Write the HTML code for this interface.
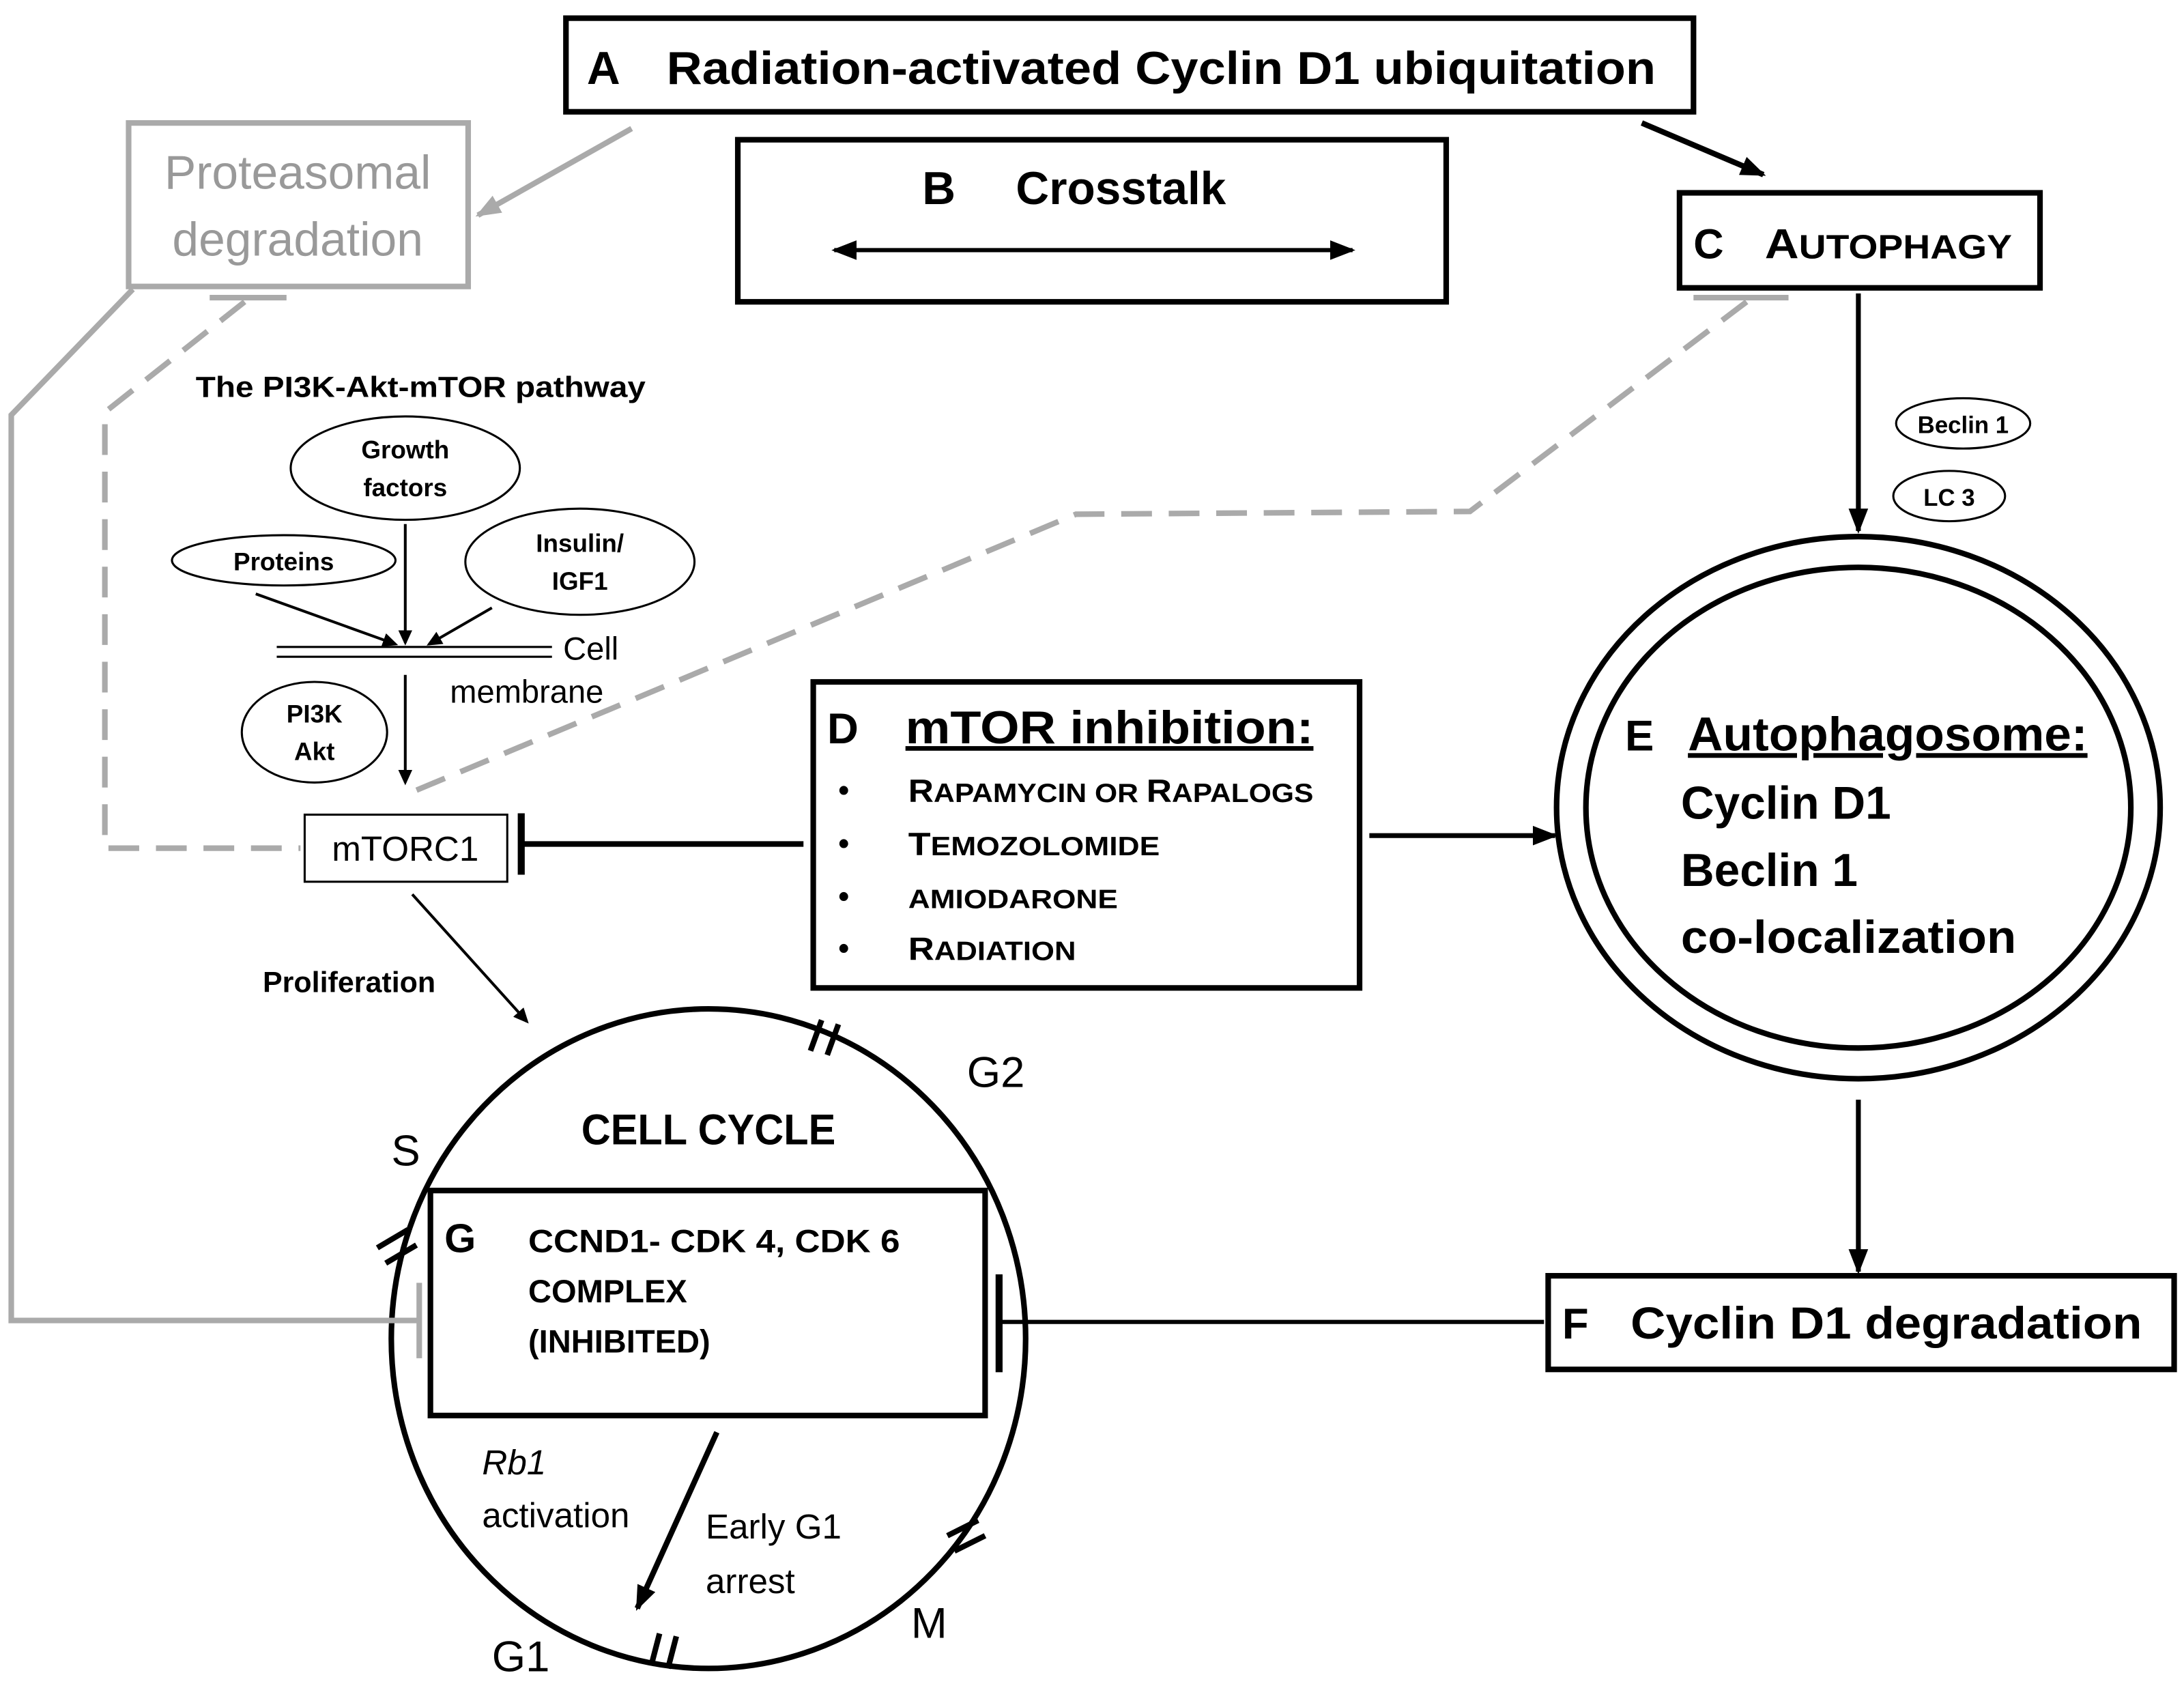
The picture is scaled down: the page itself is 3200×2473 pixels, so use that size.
<!DOCTYPE html>
<html><head><meta charset="utf-8"><style>
html,body{margin:0;padding:0;background:#fff}
svg{display:block}
text{font-family:"Liberation Sans",sans-serif}
</style></head><body>
<svg width="3200" height="2473" viewBox="0 0 1563 1208" xmlns="http://www.w3.org/2000/svg">
<defs>
<marker id="ah" markerWidth="10" markerHeight="10" refX="8" refY="5" orient="auto" markerUnits="strokeWidth"><path d="M0,1 L9,5 L0,9 z" fill="#000"/></marker>
<marker id="ahs" markerWidth="12" markerHeight="12" refX="9" refY="6" orient="auto" markerUnits="userSpaceOnUse"><path d="M0,1 L11,6 L0,11 z" fill="#000"/></marker>
<marker id="ahb" markerWidth="20" markerHeight="20" refX="16" refY="10" orient="auto" markerUnits="userSpaceOnUse"><path d="M0,3 L18,10 L0,17 z" fill="#000"/></marker>
<marker id="ahbs" markerWidth="20" markerHeight="20" refX="16" refY="10" orient="auto-start-reverse" markerUnits="userSpaceOnUse"><path d="M0,3 L18,10 L0,17 z" fill="#000"/></marker>
<marker id="ahg" markerWidth="20" markerHeight="20" refX="16" refY="10" orient="auto" markerUnits="userSpaceOnUse"><path d="M0,3 L18,10 L0,17 z" fill="#aaa"/></marker>
</defs>
<g fill="none" stroke="#000" stroke-width="4">
<rect x="405" y="13" width="807" height="67"/>
<rect x="528" y="100" width="507" height="116"/>
<rect x="1202" y="138" width="258" height="68"/>
<rect x="582" y="488" width="391" height="219"/>
<rect x="1108" y="913" width="448" height="67"/>
<rect x="308" y="852" width="397" height="161"/>
<ellipse cx="1330" cy="578" rx="216" ry="194"/>
<ellipse cx="1330" cy="578" rx="195" ry="172"/>
<ellipse cx="507" cy="958" rx="227" ry="236"/>
</g>
<rect x="92" y="88" width="243" height="117" fill="none" stroke="#aaa" stroke-width="4"/>
<g stroke="#aaa" stroke-width="4" fill="none">
<line x1="452" y1="92" x2="342" y2="154" marker-end="url(#ahg)"/>
<line x1="150" y1="213" x2="205" y2="213"/>
<line x1="1212" y1="213" x2="1280" y2="213"/>
<polyline points="95,207 8,297 8,945 300,945"/>
<line x1="300" y1="918" x2="300" y2="972"/>
<polyline points="175,216 75,295 75,607 215,607" stroke-dasharray="22,12"/>
<polyline points="1250,216 1052,366 770,368 292,568" stroke-dasharray="22,12"/>
</g>
<g stroke="#000" fill="none">
<line x1="1175" y1="88" x2="1262" y2="125" stroke-width="4" marker-end="url(#ahb)"/>
<line x1="597" y1="179" x2="968" y2="179" stroke-width="3" marker-start="url(#ahbs)" marker-end="url(#ahb)"/>
<line x1="1330" y1="210" x2="1330" y2="380" stroke-width="3.5" marker-end="url(#ahb)"/>
<line x1="980" y1="598" x2="1113" y2="598" stroke-width="3.5" marker-end="url(#ahb)"/>
<line x1="1330" y1="787" x2="1330" y2="910" stroke-width="3.5" marker-end="url(#ahb)"/>
<line x1="375" y1="604" x2="575" y2="604" stroke-width="4"/>
<line x1="373" y1="582" x2="373" y2="626" stroke-width="5"/>
<line x1="717" y1="946" x2="1105" y2="946" stroke-width="3"/>
<line x1="715" y1="912" x2="715" y2="982" stroke-width="5"/>
<line x1="513" y1="1025" x2="456" y2="1151" stroke-width="4" marker-end="url(#ahb)"/>
<line x1="295" y1="640" x2="377" y2="731" stroke-width="2" marker-end="url(#ahs)"/>
<line x1="290" y1="375" x2="290" y2="460" stroke-width="2" marker-end="url(#ahs)"/>
<line x1="183" y1="425" x2="283" y2="461" stroke-width="2" marker-end="url(#ahs)"/>
<line x1="352" y1="435" x2="307" y2="461" stroke-width="2" marker-end="url(#ahs)"/>
<line x1="290" y1="483" x2="290" y2="560" stroke-width="2" marker-end="url(#ahs)"/>
<line x1="198" y1="463" x2="395" y2="463" stroke-width="1.5"/>
<line x1="198" y1="470" x2="395" y2="470" stroke-width="1.5"/>
<ellipse cx="290" cy="335" rx="82" ry="37" stroke-width="1.5"/>
<ellipse cx="203" cy="401" rx="80" ry="18" stroke-width="1.5"/>
<ellipse cx="415" cy="402" rx="82" ry="38" stroke-width="1.5"/>
<ellipse cx="225" cy="524" rx="52" ry="36" stroke-width="1.5"/>
<ellipse cx="1405" cy="303" rx="48" ry="18" stroke-width="1.5"/>
<ellipse cx="1395" cy="355" rx="40" ry="18" stroke-width="1.5"/>
<rect x="218" y="583" width="145" height="48" stroke-width="1.5"/>
<g stroke-width="4">
<line x1="580" y1="752" x2="588" y2="730"/><line x1="592" y1="755" x2="600" y2="733"/>
<line x1="270" y1="893" x2="292" y2="880"/><line x1="276" y1="904" x2="298" y2="891"/>
<line x1="466" y1="1192" x2="472" y2="1169"/><line x1="478" y1="1194" x2="484" y2="1171"/>
<line x1="678" y1="1099" x2="700" y2="1088"/><line x1="683" y1="1110" x2="705" y2="1099"/>
</g>
</g>
<g font-weight="bold" fill="#000">
<text x="420" y="60" font-size="33">A</text>
<text x="477" y="60" font-size="33" textLength="708" lengthAdjust="spacingAndGlyphs">Radiation-activated Cyclin D1 ubiquitation</text>
<text x="660" y="146" font-size="33">B</text>
<text x="727" y="146" font-size="33">Crosstalk</text>
<text x="1212" y="185" font-size="30">C</text>
<text x="1263" y="185" font-size="30" textLength="177" lengthAdjust="spacingAndGlyphs">A<tspan font-size="24">UTOPHAGY</tspan></text>
<text x="140" y="284" font-size="21" textLength="322" lengthAdjust="spacingAndGlyphs">The PI3K-Akt-mTOR pathway</text>
<text x="290" y="328" font-size="18" text-anchor="middle">Growth</text>
<text x="290" y="355" font-size="18" text-anchor="middle">factors</text>
<text x="203" y="408" font-size="18" text-anchor="middle">Proteins</text>
<text x="415" y="395" font-size="18" text-anchor="middle">Insulin/</text>
<text x="415" y="422" font-size="18" text-anchor="middle">IGF1</text>
<text x="225" y="517" font-size="18" text-anchor="middle">PI3K</text>
<text x="225" y="544" font-size="18" text-anchor="middle">Akt</text>
<text x="1405" y="310" font-size="17" text-anchor="middle">Beclin 1</text>
<text x="1395" y="362" font-size="17" text-anchor="middle">LC 3</text>
<text x="188" y="710" font-size="21">Proliferation</text>
<text x="592" y="532" font-size="31">D</text>
<text x="648" y="532" font-size="33" text-decoration="underline" textLength="292" lengthAdjust="spacingAndGlyphs">mTOR  inhibition:</text>
<g font-size="23">
<text x="600" y="573" font-size="22">•</text><text x="650" y="574" textLength="290" lengthAdjust="spacingAndGlyphs">R<tspan font-size="19">APAMYCIN OR </tspan>R<tspan font-size="19">APALOGS</tspan></text>
<text x="600" y="611" font-size="22">•</text><text x="650" y="612" textLength="180" lengthAdjust="spacingAndGlyphs">T<tspan font-size="19">EMOZOLOMIDE</tspan></text>
<text x="600" y="649" font-size="22">•</text><text x="650" y="650" font-size="19" textLength="150" lengthAdjust="spacingAndGlyphs">AMIODARONE</text>
<text x="600" y="686" font-size="22">•</text><text x="650" y="687" textLength="120" lengthAdjust="spacingAndGlyphs">R<tspan font-size="19">ADIATION</tspan></text>
</g>
<text x="1163" y="537" font-size="31">E</text>
<text x="1208" y="537" font-size="34" text-decoration="underline" textLength="286" lengthAdjust="spacingAndGlyphs">Autophagosome:</text>
<text x="1203" y="586" font-size="33">Cyclin D1</text>
<text x="1203" y="634" font-size="33">Beclin 1</text>
<text x="1203" y="682" font-size="33" textLength="240" lengthAdjust="spacingAndGlyphs">co-localization</text>
<text x="1118" y="958" font-size="31">F</text>
<text x="1167" y="958" font-size="32" textLength="366" lengthAdjust="spacingAndGlyphs">Cyclin D1 degradation</text>
<text x="507" y="819" font-size="31" text-anchor="middle" textLength="182" lengthAdjust="spacingAndGlyphs">CELL CYCLE</text>
<text x="318" y="896" font-size="29">G</text>
<text x="378" y="896" font-size="23" textLength="266" lengthAdjust="spacingAndGlyphs">CCND1- CDK 4, CDK 6</text>
<text x="378" y="932" font-size="23">COMPLEX</text>
<text x="378" y="968" font-size="23">(INHIBITED)</text>
</g>
<g fill="#000" font-size="25">
<text x="322" y="503" font-size="23">membrane</text>
<text x="403" y="472" font-size="23">Cell</text>
<text x="290" y="616" font-size="25" text-anchor="middle">mTORC1</text>
<text x="345" y="1055" font-style="italic">Rb1</text>
<text x="345" y="1093">activation</text>
<text x="505" y="1101">Early G1</text>
<text x="505" y="1140">arrest</text>
<text x="280" y="834" font-size="31">S</text>
<text x="692" y="778" font-size="31">G2</text>
<text x="352" y="1196" font-size="31">G1</text>
<text x="652" y="1172" font-size="31">M</text>
</g>
<g fill="#999" font-size="34">
<text x="213" y="135" text-anchor="middle">Proteasomal</text>
<text x="213" y="183" text-anchor="middle">degradation</text>
</g>
</svg>
</body></html>
